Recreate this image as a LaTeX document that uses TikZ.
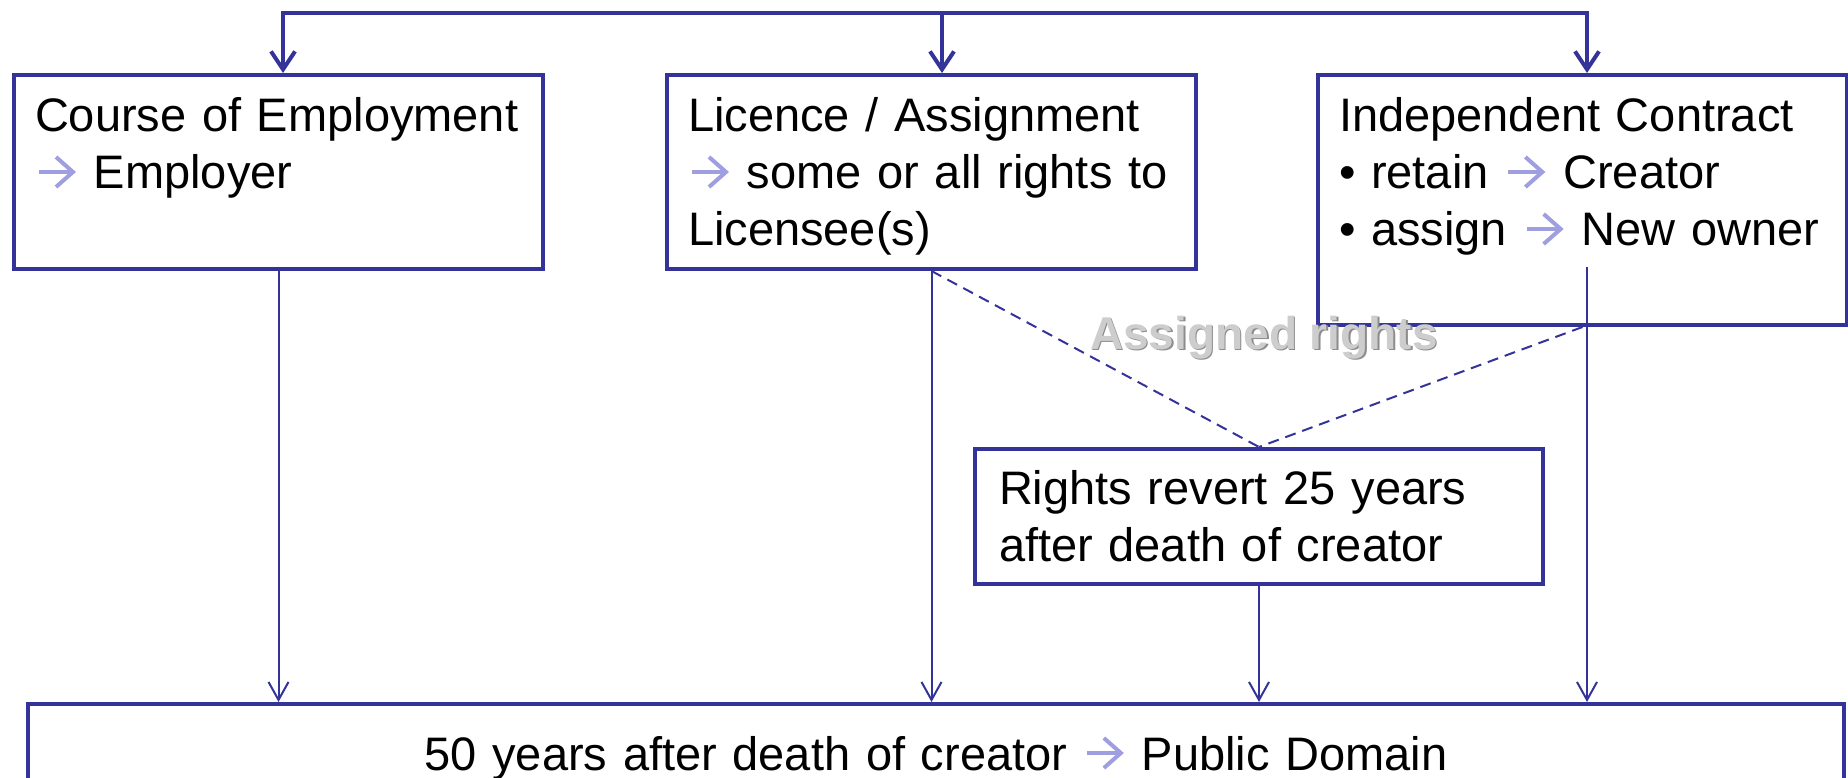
\documentclass[tikz,border=0pt]{standalone}
\usepackage{fontspec}
\setmainfont{Liberation Sans}
\usepackage{tikz}
\usetikzlibrary{arrows.meta}

\definecolor{linkblue}{RGB}{51,51,153}
\definecolor{pointer}{RGB}{158,158,224}
\definecolor{embossfg}{RGB}{205,205,205}
\definecolor{embossbg}{RGB}{140,140,140}

\newcommand{\goesto}{\hspace{2pt}\tikz[baseline=0pt]\draw[pointer, line width=4pt,
    -{Straight Barb[length=17pt,width=30pt]}] (0pt,17pt) -- (37pt,17pt);}

\begin{document}
\begin{tikzpicture}[x=1pt, y=-1pt, semithick,
        box/.style={draw=linkblue, line width=4pt, anchor=north west,
                    inner xsep=21pt, inner ysep=0pt, align=left, text width=487pt,
                    font=\fontsize{47}{57}\selectfont},
        flow/.style={draw=linkblue, line width=2pt, -{Straight Barb[length=18pt,width=20pt]}},
        feed/.style={draw=linkblue, line width=4pt},
        handover/.style={draw=linkblue, line width=2pt, dash pattern=on 11pt off 7pt}]
    \clip (0,0) rectangle (1848,778);
    \node (Employ)  [box, text height=57pt, text depth=137pt] at (12,73)
        {Course of Employment\\ \goesto{} Employer};
    \node (Licence) [box, text height=57pt, text depth=137pt] at (665,73)
        {Licence / Assignment\\ \goesto{} some or all rights to\\ Licensee(s)};
    \node (Indep)   [box, text height=57pt, text depth=193pt] at (1316,73)
        {Independent Contract\\ • retain \goesto{} Creator\\ • assign \goesto{} New owner};
    \node (Revert)  [box, inner xsep=24pt, text width=520pt,
                     text height=55pt, text depth=80pt] at (973,447)
        {Rights revert 25 years\\ after death of creator};
    \node (PubDom)  [box, align=center, text width=1774pt,
                     text height=66pt, text depth=50pt] at (26,702)
        {50 years after death of creator \goesto{} Public Domain};
    \node (Assigned) [text=embossfg, font=\fontsize{46}{54}\selectfont\bfseries] at (1264,338)
        {\makebox[0pt][l]{\hspace{1.5pt}\raisebox{-1.5pt}{\color{embossbg}Assigned rights}}Assigned rights};
    \coordinate (BusL)     at (283,13);
    \coordinate (BusM)     at (942,13);
    \coordinate (BusR)     at (1587,13);
    \coordinate (IndepOut) at (1587,267);
    \draw[feed, {Straight Barb[length=18pt,width=24pt]}-{Straight Barb[length=18pt,width=24pt]}]
        (BusL |- Employ.north) -- (BusL) -- (BusR) -- (BusR |- Indep.north);
    \draw[feed, -{Straight Barb[length=18pt,width=24pt]}] (BusM) -- (BusM |- Licence.north);
    \draw[flow]     (Employ.south)  -- (Employ.south  |- PubDom.north);
    \draw[flow]     (Licence.south) -- (Licence.south |- PubDom.north);
    \draw[flow]     (Revert.south)  -- (Revert.south  |- PubDom.north);
    \draw[flow]     (IndepOut)      -- (IndepOut      |- PubDom.north);
    \draw[handover] (Licence.south) -- (Revert.north);
    \draw[handover] (Indep.south)   -- (Revert.north);
\end{tikzpicture}
\end{document}
